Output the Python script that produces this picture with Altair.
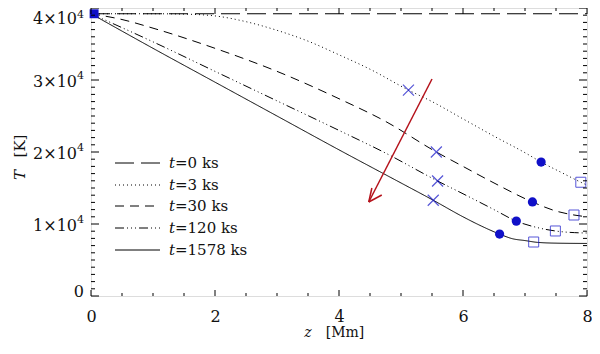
import altair as alt
import pandas as pd

# ---- data ----
z_t0 = [0, 8]
T_t0 = [39200, 39200]
z_t3 = [0, 1, 1.5, 2, 2.5, 3, 3.5, 4, 4.5, 5.12, 5.5, 6, 6.5, 7, 7.26, 7.6, 7.9, 8]
T_t3 = [39200, 39200, 39150, 38900, 38100, 36900, 35400, 33500, 31500, 28600, 27000, 24600, 22200, 19900, 18600, 17100, 15800, 15400]
z_t30 = [0, 0.5, 1, 2, 3, 4, 4.74, 5.57, 6, 6.5, 7.12, 7.5, 7.79, 8]
T_t30 = [39200, 38400, 37200, 34400, 31200, 27400, 24300, 20000, 18000, 15700, 13060, 11800, 11250, 11000]
z_t120 = [0, 1, 2, 3, 4, 4.74, 5.59, 6, 6.5, 6.86, 7.2, 7.49, 7.8, 8]
T_t120 = [39200, 35300, 31200, 27100, 23000, 19900, 15970, 14200, 12000, 10400, 9500, 9030, 8800, 8750]
z_t1578 = [0, 1, 2, 3, 4, 5, 5.52, 6, 6.3, 6.59, 6.8, 7.0, 7.2, 7.5, 8]
T_t1578 = [39200, 34400, 29700, 25000, 20300, 15700, 13300, 11000, 9700, 8600, 7950, 7700, 7450, 7340, 7300]

x_marks_z = [5.12, 5.57, 5.59, 5.52]
x_marks_T = [28600, 20000, 15970, 13300]
circ_z = [7.26, 7.12, 6.86, 6.59]
circ_T = [18600, 13060, 10400, 8600]
sq_z = [7.9, 7.79, 7.49, 7.14]
sq_T = [15800, 11250, 9030, 7500]
start_z = [0.05]
start_T = [39200]

arrow_z = [5.5, 4.48]
arrow_T = [30140, 13060]
head_z = [4.53, 4.69]
head_T = [15000, 14030]

legend_labels = ["=0 ks", "=3 ks", "=30 ks", "=120 ks", "=1578 ks"]
dashes = [[19, 7], [1, 3], [9, 6], [9, 3, 1, 3, 1, 3, 1, 3], [1, 0]]

x_major = [0, 2, 4, 6, 8]
x_minor = [0.5, 1, 1.5, 2.5, 3, 3.5, 4.5, 5, 5.5, 6.5, 7, 7.5]
y_major = [0, 10000, 20000, 30000, 40000]
y_minor = [v * 1000 for v in range(41) if v % 10 != 0]
y_mid_vals = [10000, 20000, 30000]
y_mid_text = ["1×10", "2×10", "3×10"]
y_top_vals = [40000]
y_top_text = ["4×10"]
y_bot_vals = [0]
y_bot_text = ["0"]

W, H = 496, 288
SERIF = "DejaVu Serif"
BLUE = "#1010c8"
RED = "#b5121b"
INK = "#111"

xs = alt.Scale(domain=[0, 8], nice=False)
ys = alt.Scale(domain=[0, 40000], nice=False)

series = [(z_t0, T_t0), (z_t3, T_t3), (z_t30, T_t30), (z_t120, T_t120), (z_t1578, T_t1578)]

layers = []

# base layer with x axis labels only
base_df = pd.DataFrame({"z": [0, 8], "T": [0, 40000]})
axis_layer = alt.Chart(base_df).mark_point(opacity=0).encode(
    x=alt.X("z:Q", scale=xs, axis=alt.Axis(values=x_major, title=None, grid=False, ticks=False,
                                           tickSize=0, domain=False, labelFont=SERIF, labelFontSize=16,
                                           labelColor=INK, labelPadding=20, labelBaseline="middle",
                                           labelFlush=False, format="d")),
    y=alt.Y("T:Q", scale=ys, axis=None),
)
layers.append(axis_layer)

# y labels as text (with superscript exponent)
def ylabels(vals, texts, dy, sup, sup_dy=-6):
    df = pd.DataFrame({"T": vals, "lab": texts})
    out = [alt.Chart(df).mark_text(font=SERIF, fontSize=16, align="right", baseline="middle",
                                   dy=dy, color=INK).encode(
        y=alt.Y("T:Q", scale=ys), x=alt.value(-14 if sup else -7), text="lab:N")]
    if sup:
        out.append(alt.Chart(df).mark_text(font=SERIF, fontSize=11, align="left", baseline="middle",
                                           dy=dy + sup_dy, color=INK).encode(
            y=alt.Y("T:Q", scale=ys), x=alt.value(-14), text=alt.value("4")))
    return out

layers += ylabels(y_mid_vals, y_mid_text, 2, True)
layers += ylabels(y_top_vals, y_top_text, 11, True, -4)
layers += ylabels(y_bot_vals, y_bot_text, -4, False)

# curves
for (zz, TT), d in zip(series, dashes):
    df = pd.DataFrame({"z": zz, "T": TT})
    layers.append(
        alt.Chart(df).mark_line(color="#000", strokeWidth=1, strokeDash=d, interpolate="monotone").encode(
            x=alt.X("z:Q", scale=xs), y=alt.Y("T:Q", scale=ys)
        )
    )

# markers
xdf = pd.DataFrame({"z": x_marks_z, "T": x_marks_T})
layers.append(alt.Chart(xdf).mark_point(shape="M-1,-1L1,1M-1,1L1,-1", size=121, filled=False,
                                        color=BLUE, strokeWidth=1.2).encode(
    x=alt.X("z:Q", scale=xs), y=alt.Y("T:Q", scale=ys)))
cdf = pd.DataFrame({"z": circ_z, "T": circ_T})
layers.append(alt.Chart(cdf).mark_point(shape="circle", size=85, filled=True, color=BLUE, opacity=1).encode(
    x=alt.X("z:Q", scale=xs), y=alt.Y("T:Q", scale=ys)))
sdf = pd.DataFrame({"z": sq_z, "T": sq_T})
layers.append(alt.Chart(sdf).mark_point(shape="square", size=100, filled=False, color=BLUE, strokeWidth=1).encode(
    x=alt.X("z:Q", scale=xs), y=alt.Y("T:Q", scale=ys)))
stdf = pd.DataFrame({"z": start_z, "T": start_T})
layers.append(alt.Chart(stdf).mark_point(shape="square", size=80, filled=True, color=BLUE, opacity=1).encode(
    x=alt.X("z:Q", scale=xs), y=alt.Y("T:Q", scale=ys)))

# arrow
adf = pd.DataFrame({"z": [arrow_z[0], head_z[0], head_z[1]], "T": [arrow_T[0], head_T[0], head_T[1]],
                    "z2": [arrow_z[1]] * 3, "T2": [arrow_T[1]] * 3})
layers.append(alt.Chart(adf).mark_rule(color=RED, strokeWidth=1.5).encode(
    x=alt.X("z:Q", scale=xs), y=alt.Y("T:Q", scale=ys), x2="z2:Q", y2="T2:Q"))

# ticks (inward, all four sides)
def xticks(vals, ln):
    df = pd.DataFrame({"z": vals})
    b = alt.Chart(df).mark_rule(color="#000", strokeWidth=1).encode(
        x=alt.X("z:Q", scale=xs), y=alt.value(H), y2=alt.value(H - ln))
    t = alt.Chart(df).mark_rule(color="#000", strokeWidth=1).encode(
        x=alt.X("z:Q", scale=xs), y=alt.value(0), y2=alt.value(ln))
    return [b, t]

def yticks(vals, ln):
    df = pd.DataFrame({"T": vals})
    l = alt.Chart(df).mark_rule(color="#000", strokeWidth=1).encode(
        y=alt.Y("T:Q", scale=ys), x=alt.value(0), x2=alt.value(ln))
    r = alt.Chart(df).mark_rule(color="#000", strokeWidth=1).encode(
        y=alt.Y("T:Q", scale=ys), x=alt.value(W), x2=alt.value(W - ln))
    return [l, r]

layers += xticks(x_major, 6) + xticks(x_minor, 3) + yticks(y_major, 8) + yticks(y_minor, 4)

# legend
row_y = [155, 177, 198, 220, 242]
for lab, d, ry in zip(legend_labels, dashes, row_y):
    ldf = pd.DataFrame({"lab": [lab]})
    layers.append(alt.Chart(ldf).mark_rule(color="#000", strokeWidth=1, strokeDash=d).encode(
        x=alt.value(24), x2=alt.value(69), y=alt.value(ry)))
    layers.append(alt.Chart(ldf).mark_text(font=SERIF, fontSize=15, fontStyle="italic", align="left",
                                           baseline="middle", color=INK).encode(
        x=alt.value(78), y=alt.value(ry), text=alt.value("t")))
    layers.append(alt.Chart(ldf).mark_text(font=SERIF, fontSize=15, align="left",
                                           baseline="middle", color=INK).encode(
        x=alt.value(84), y=alt.value(ry), text="lab:N"))

# axis titles
tdf = pd.DataFrame({"a": [0]})
layers.append(alt.Chart(tdf).mark_text(font=SERIF, fontSize=14, fontStyle="italic", align="center",
                                       baseline="middle", color=INK).encode(
    x=alt.value(217), y=alt.value(325), text=alt.value("z")))
layers.append(alt.Chart(tdf).mark_text(font=SERIF, fontSize=14, align="center",
                                       baseline="middle", color=INK).encode(
    x=alt.value(254), y=alt.value(325), text=alt.value("[Mm]")))
layers.append(alt.Chart(tdf).mark_text(font=SERIF, fontSize=15, fontStyle="italic", align="center",
                                       baseline="middle", angle=270, color=INK).encode(
    x=alt.value(-71), y=alt.value(167), text=alt.value("T")))
layers.append(alt.Chart(tdf).mark_text(font=SERIF, fontSize=15, align="center",
                                       baseline="middle", angle=270, color=INK).encode(
    x=alt.value(-71), y=alt.value(138), text=alt.value("[K]")))

chart = alt.layer(*layers).properties(
    width=W, height=H,
    autosize=alt.AutoSizeParams(type="none"),
    padding={"left": 83, "top": 0, "right": 5, "bottom": 45},
).configure_view(stroke="#000", strokeWidth=1).configure(background="white")

chart.save("out.html", embed_options={"renderer": "svg", "actions": False})
